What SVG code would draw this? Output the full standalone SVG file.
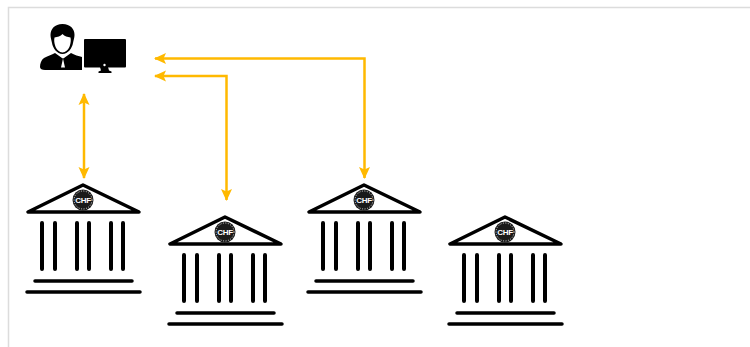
<svg xmlns="http://www.w3.org/2000/svg" width="750" height="347" viewBox="0 0 750 347">
<style>
.roof{fill:none;stroke:#000;stroke-width:3.5;stroke-linejoin:round}
.col{stroke:#000;stroke-width:4;stroke-linecap:round}
.step{stroke:#000;stroke-width:3.500;stroke-linecap:round}
.seal{fill:#1a1a1a}
.ring{fill:none;stroke:#ddd;stroke-width:1;stroke-dasharray:1 1.500}
.chf{font:bold 8px "Liberation Sans",Arial,sans-serif;fill:#fff;text-anchor:middle;letter-spacing:-.3px}
.link{fill:none;stroke:#ffb900;stroke-width:2.500}
</style>
<defs>
<marker id="ah" viewBox="0 0 12 12" refX="11" refY="6" markerWidth="12" markerHeight="12" markerUnits="userSpaceOnUse" orient="auto-start-reverse"><path d="M0 0.500L12 6L0 11.500L2.500 6Z" fill="#ffb900"/></marker>
<g id="bank">
<path class="roof" d="M83 185L28 212H139Z"/>
<circle class="seal" cx="83" cy="200" r="10.500"/>
<circle class="ring" cx="83" cy="200" r="9"/>
<text class="chf" x="83" y="203">CHF</text>
<path class="col" d="M42 223V269M55 223V269M77 223V269M89 223V269M111 223V269M123 223V269"/>
<path class="step" d="M35 281H132M27 292H140"/>
</g>
</defs>
<rect width="750" height="347" fill="#fff"/>
<path d="M8.500 347V7.500H750" fill="none" stroke="#dcdcdc" stroke-width="1.500"/>
<g id="user">
<path d="M62.500 24c-8 0-12 5-12 11 0 3 1 5 1.500 8 .8 5 5 11 10.500 11s9.700-6 10.500-11c.5-3 1.500-5 1.500-8 0-6-4-11-12-11Z" fill="#000"/>
<path d="M62.500 34c2 2.500 5 3 8 3.500.6 3 .2 5-.6 8-1 4-4.500 7-7.400 7s-6.400-3-7.400-7c-.8-3-1.200-5-.6-8 3-.5 6-1 8-3.500Z" fill="#fff"/>
<path d="M55 53c-3 2-8 3-11 5-3 2-4 6-4 9 0 2 2 3 5 3h37V57c-3-1-8-2-11-4l-7 5-1 .5 2 9h-4l2-9-1-.5Z" fill="#000"/>
</g>
<g id="monitor">
<rect x="84" y="39" width="42" height="28.500" rx="1" fill="#000"/>
<path d="M100 67h8l1 3.500 2.500 1v1.500H98.500v-1.500l2.500-1Z" fill="#000"/>
<circle cx="104.500" cy="65" r="1.200" fill="#fff"/>
</g>
<g id="connectors">
<path class="link" d="M84 94V178" marker-start="url(#ah)" marker-end="url(#ah)"/>
<path class="link" d="M155 76H226.500V200" marker-start="url(#ah)" marker-end="url(#ah)"/>
<path class="link" d="M155 58.500H364.500V178" marker-start="url(#ah)" marker-end="url(#ah)"/>
</g>
<g id="bank1"><use href="#bank"/></g>
<g id="bank2"><use href="#bank" x="142" y="32"/></g>
<g id="bank3"><use href="#bank" x="281"/></g>
<g id="bank4"><use href="#bank" x="422" y="32"/></g>
</svg>
